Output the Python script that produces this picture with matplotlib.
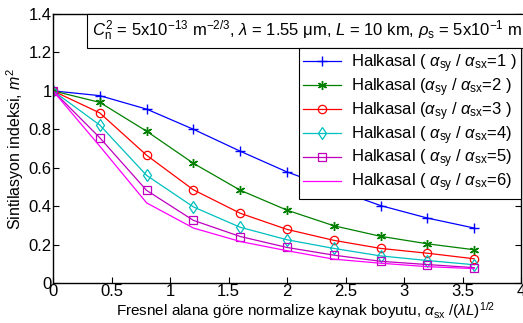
import matplotlib
matplotlib.use("Agg")
import matplotlib.pyplot as plt

plt.rcParams['font.family'] = ['Liberation Sans', 'DejaVu Sans']
plt.rcParams['mathtext.fontset'] = 'custom'
plt.rcParams['mathtext.rm'] = 'Liberation Sans'
plt.rcParams['mathtext.it'] = 'Liberation Sans:italic'
plt.rcParams['mathtext.bf'] = 'Liberation Sans:bold'

x = [0, 0.4, 0.8, 1.2, 1.6, 2.0, 2.4, 2.8, 3.2, 3.6]
r1 = [1.0, 0.975, 0.905, 0.80, 0.686, 0.578, 0.49, 0.403, 0.338, 0.286]
r2 = [1.0, 0.94, 0.79, 0.623, 0.483, 0.379, 0.298, 0.243, 0.204, 0.173]
r3 = [1.0, 0.885, 0.665, 0.485, 0.363, 0.279, 0.222, 0.18, 0.155, 0.126]
r4 = [1.0, 0.822, 0.56, 0.396, 0.29, 0.225, 0.18, 0.141, 0.117, 0.095]
r5 = [1.0, 0.756, 0.482, 0.326, 0.242, 0.185, 0.145, 0.113, 0.096, 0.08]
r6 = [1.0, 0.712, 0.417, 0.286, 0.216, 0.168, 0.124, 0.103, 0.085, 0.075]

labels = [
    r"Halkasal ( $\alpha_{\mathrm{sy}}$ / $\alpha_{\mathrm{sx}}$=1 )",
    r"Halkasal ($\alpha_{\mathrm{sy}}$ / $\alpha_{\mathrm{sx}}$=2 )",
    r"Halkasal ($\alpha_{\mathrm{sy}}$ / $\alpha_{\mathrm{sx}}$=3 )",
    r"Halkasal ( $\alpha_{\mathrm{sy}}$ / $\alpha_{\mathrm{sx}}$=4)",
    r"Halkasal ( $\alpha_{\mathrm{sy}}$ / $\alpha_{\mathrm{sx}}$=5)",
    r"Halkasal ( $\alpha_{\mathrm{sy}}$ / $\alpha_{\mathrm{sx}}$=6)",
]
xticks = [0, 0.5, 1, 1.5, 2, 2.5, 3, 3.5, 4]
xticklabels = ["0", "0.5", "1", "1.5", "2", "2.5", "3", "3.5", "4"]
yticks = [0, 0.2, 0.4, 0.6, 0.8, 1.0, 1.2, 1.4]
yticklabels = ["0", "0.2", "0.4", "0.6", "0.8", "1", "1.2", "1.4"]

fig = plt.figure(figsize=(5.23, 3.23), dpi=100)
ax = fig.add_axes([53/523, (323-283)/323, (521-53)/523, (283-14)/323])

styles = [
    dict(color='#0000ff', marker='+', ms=7, mew=1.0),
    dict(color='#008000', marker=(6, 2, 0), ms=6.5, mew=1.0),
    dict(color='#ff0000', marker='o', ms=6, mfc='none', mew=0.9),
    dict(color='#00bfbf', marker='d', ms=6.5, mfc='none', mew=0.9),
    dict(color='#bf00bf', marker='s', ms=5.5, mfc='none', mew=0.9),
    dict(color='#ff00ff', marker=None),
]
series = [r1, r2, r3, r4, r5, r6]
for ys, st, lab in zip(series, styles, labels):
    ax.plot(x, ys, lw=0.9, label=lab, **st)

ax.set_xlim(0, 4)
ax.set_ylim(0, 1.4)
ax.set_xticks(xticks)
ax.set_xticklabels(xticklabels)
ax.set_yticks(yticks)
ax.set_yticklabels(yticklabels)
ax.tick_params(direction='in', top=True, right=True, labelsize=12, length=4, pad=1)
for s in ax.spines.values():
    s.set_linewidth(1.0)

ax.set_xlabel(r"Fresnel alana göre normalize kaynak boyutu, $\alpha_{\mathrm{sx}}$ /($\lambda L$)$^{1/2}$",
              fontsize=11)
ax.xaxis.set_label_coords((306-53)/468, (283-300)/269)
ax.xaxis.label.set_va('top')
ax.set_ylabel(r"Sintilasyon indeksi, $m^2$", fontsize=11.5, labelpad=2)

ax.text(92/523, 1 - 31/323,
        r"$C_\mathrm{n}^2$ = 5x10$^{-13}$ m$^{-2/3}$, $\lambda$ = 1.55 $\mathrm{\mu}$m, $L$ = 10 km, $\rho_\mathrm{s}$ = 5x10$^{-1}$ m",
        transform=fig.transFigure, fontsize=12, va='center', ha='left',
        bbox=dict(boxstyle='square,pad=0.3', fc='white', ec='black', lw=0.8))

leg = ax.legend(loc='upper right', bbox_to_anchor=(1.0, (283-48)/269), fontsize=12,
                frameon=True, fancybox=False, edgecolor='black', framealpha=1,
                borderpad=0.25, labelspacing=0.08, handlelength=2.3, handletextpad=0.6,
                borderaxespad=0)
leg.get_frame().set_linewidth(0.8)

fig.savefig("out.png", dpi=100)
